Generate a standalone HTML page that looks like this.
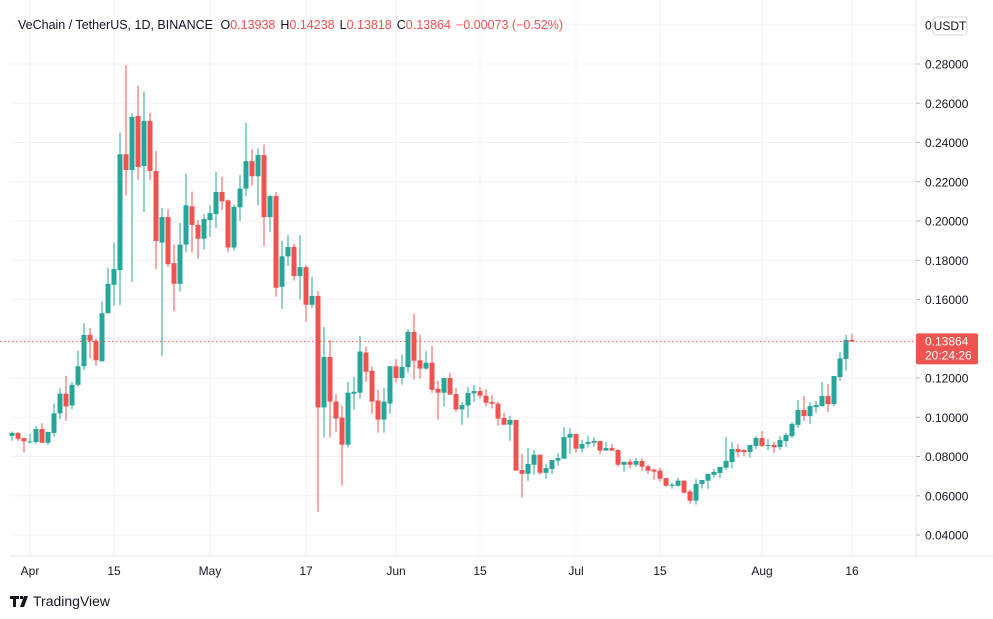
<!DOCTYPE html>
<html><head><meta charset="utf-8"><style>
html,body{margin:0;padding:0;background:#fff;}
svg{display:block;font-family:"Liberation Sans","DejaVu Sans",sans-serif;}
</style></head><body>
<svg id="chart" width="993" height="619" viewBox="0 0 993 619">
<g id="grid"></g>
<g id="candles"></g>
<g id="axes"></g>
<text x="18" y="29" font-size="12.5" fill="#131722">VeChain / TetherUS, 1D, BINANCE <tspan dx="4">O</tspan><tspan fill="#ef5350">0.13938</tspan><tspan dx="5">H</tspan><tspan fill="#ef5350">0.14238</tspan><tspan dx="5">L</tspan><tspan fill="#ef5350">0.13818</tspan><tspan dx="5">C</tspan><tspan fill="#ef5350">0.13864</tspan><tspan dx="5" fill="#ef5350">−0.00073 (−0.52%)</tspan></text>
<g>
<path d="M10 596h9v3h-3v8h-3v-8h-3zM20 596h3v3h-3zM24 596h4l-4 11h-4z" fill="#131722"/>
<text x="33" y="606" font-size="14" fill="#131722">TradingView</text>
</g>
</svg>
<script>
const opens=[.0905,.092,.0894,.0875,.0874,.094,.087,.092,.102,.112,.106,.1165,.126,.142,.139,.1285,.153,.1675,.175,.234,.226,.2535,.228,.251,.2255,.189,.202,.1785,.168,.188,.2075,.198,.191,.2005,.2035,.2148,.2105,.1865,.207,.2165,.2305,.2228,.2336,.202,.2127,.1665,.182,.1868,.172,.1765,.1573,.1618,.105,.1307,.108,.0998,.086,.112,.1125,.133,.1237,.1085,.0988,.107,.126,.120,.1255,.1435,.129,.1248,.1278,.1145,.1125,.120,.1118,.104,.106,.1122,.1134,.111,.1078,.1069,.0996,.0962,.0986,.0731,.0712,.0758,.0809,.0717,.0736,.0779,.0789,.0896,.0915,.084,.0864,.087,.0879,.083,.0843,.0833,.0758,.0773,.0758,.0777,.075,.0733,.0728,.069,.0651,.0651,.0677,.0621,.0575,.066,.0677,.0707,.0716,.0743,.0772,.0838,.0833,.0823,.0854,.0894,.0854,.0859,.0848,.0879,.0904,.0961,.1037,.1006,.1052,.1057,.1108,.1067,.1205,.1297,.1394];
const highs=[.0928,.0925,.0895,.0915,.0955,.097,.0927,.107,.115,.121,.118,.134,.148,.1455,.140,.159,.176,.189,.245,.2795,.255,.269,.266,.255,.2357,.2066,.206,.188,.199,.224,.215,.2005,.2035,.208,.225,.2225,.211,.2085,.2235,.250,.2366,.237,.239,.2133,.2148,.190,.1928,.1883,.1928,.1776,.1715,.1643,.146,.1393,.1118,.106,.118,.1206,.1414,.136,.1258,.114,.115,.126,.1297,.132,.145,.1526,.142,.1337,.1363,.1186,.120,.1227,.115,.1078,.1154,.1164,.1154,.1144,.1113,.1078,.1023,.1008,.0986,.0813,.0843,.0833,.0809,.0762,.0782,.0818,.095,.0945,.0915,.0884,.0904,.0899,.0879,.0874,.0864,.0838,.0773,.0787,.0792,.0792,.0758,.0738,.0743,.069,.0667,.0692,.0677,.0631,.0687,.068,.0711,.0736,.0747,.090,.0874,.0864,.0838,.0859,.0904,.093,.0889,.0874,.0904,.092,.0976,.1088,.1108,.1078,.1083,.118,.1169,.121,.1333,.1419,.1424];
const lows=[.088,.088,.082,.0867,.0863,.087,.086,.090,.099,.0982,.104,.1155,.124,.130,.1263,.1285,.153,.157,.157,.213,.169,.221,.2045,.221,.1755,.131,.1765,.154,.164,.184,.184,.1808,.1855,.192,.1965,.2055,.184,.185,.200,.2127,.218,.208,.187,.1945,.1614,.1553,.177,.1696,.160,.1487,.1558,.0519,.0896,.0896,.0926,.0651,.0845,.1038,.1095,.118,.1018,.0921,.0921,.1018,.1176,.1166,.1227,.1191,.1197,.1242,.1125,.0988,.1054,.1115,.1028,.0962,.0998,.1079,.1095,.1054,.1044,.0957,.0962,.088,.0728,.059,.0675,.0707,.0707,.0687,.0711,.0753,.0789,.0814,.082,.082,.0845,.085,.081,.083,.083,.0748,.0723,.074,.0748,.0728,.0712,.0682,.0672,.0646,.0636,.0646,.061,.056,.0554,.0636,.0635,.0692,.069,.0731,.0741,.0797,.080,.0797,.0838,.0848,.0833,.0818,.0833,.0848,.0894,.0945,.0981,.0966,.1022,.1057,.1027,.1057,.1185,.1236,.1383];
const closes=[.092,.089,.0877,.0877,.094,.087,.0925,.102,.112,.1055,.1165,.126,.142,.139,.129,.153,.168,.1755,.234,.226,.253,.2275,.251,.2255,.1898,.202,.178,.168,.188,.208,.198,.191,.201,.204,.2148,.210,.1865,.2072,.2165,.2305,.2228,.2336,.202,.2127,.166,.182,.1868,.172,.1765,.1573,.1618,.105,.1307,.108,.0993,.086,.1125,.113,.1335,.1232,.108,.0988,.108,.126,.120,.1256,.1435,.1288,.1248,.1278,.114,.1125,.120,.1115,.104,.1062,.1123,.1134,.111,.1074,.1069,.0993,.0962,.0986,.0728,.0712,.0762,.0809,.0717,.0741,.0782,.0792,.0899,.0915,.084,.0864,.0874,.0879,.083,.0843,.083,.0758,.0773,.0758,.0777,.0748,.0728,.0723,.0687,.0651,.0657,.0677,.0616,.0575,.066,.068,.0711,.0721,.0747,.0778,.0838,.0823,.0823,.0859,.0894,.0854,.0859,.0848,.0884,.091,.0966,.1037,.1006,.1057,.1062,.1108,.1067,.121,.130,.1394,.1386];
const priceTicks=[0.28,0.26,0.24,0.22,0.20,0.18,0.16,0.14,0.12,0.10,0.08,0.06,0.04];
const dateLabels=["Apr","15","May","17","Jun","15","Jul","15","Aug","16"];
const dateIndex=[3,17,33,49,64,78,94,108,125,140];
const lastPrice=0.13864;

const NS="http://www.w3.org/2000/svg";
function yScale(p){return 535-(p-0.04)/0.02*39.25;}
function xScale(i){return 12+6*i;}
function mk(tag,attrs,parent){const e=document.createElementNS(NS,tag);for(const k in attrs)e.setAttribute(k,attrs[k]);parent.appendChild(e);return e;}
const grid=document.getElementById('grid'),cg=document.getElementById('candles'),ax=document.getElementById('axes');

// horizontal grid
mk('line',{x1:10,x2:916,y1:25,y2:25,stroke:'#f0f3fa'},grid);
priceTicks.forEach(p=>{
  const y=yScale(p);
  const l=mk('line',{x1:10,x2:916,y1:y,y2:y,stroke:'#f0f3fa'},grid);
  
  
  const t=mk('text',{x:925,y:y+4.5,'font-size':12,fill:'#131722'},ax);
  
  
  t.textContent=p.toFixed(5);
  mk('line',{x1:916,x2:920,y1:y,y2:y,stroke:'#b2b5be'},ax);
});
dateIndex.forEach((di,k)=>{
  const x=xScale(di);
  const l=mk('line',{x1:x,x2:x,y1:0,y2:556,stroke:'#f0f3fa'},grid);
  
  
  const t=mk('text',{x:x,y:575,'font-size':12,fill:'#131722','text-anchor':'middle'},ax);
  
  
  t.textContent=dateLabels[k];
});
// axis borders
mk('line',{x1:916,x2:916,y1:0,y2:556,stroke:'#e0e3eb'},ax);
mk('line',{x1:10,x2:993,y1:556,y2:556,stroke:'#e0e3eb'},ax);
const ut=mk('text',{x:925,y:29.5,'font-size':12,fill:'#131722'},ax);


ut.textContent='0';
const ub=mk('rect',{x:933,y:17,width:34,height:18,rx:4,fill:'#fff',stroke:'#d1d4dc'},ax);


const ut2=mk('text',{x:950,y:30,'font-size':12,fill:'#131722','text-anchor':'middle'},ax);
ut2.textContent='USDT';

// candles
for(let i=0;i<opens.length;i++){
  const o=opens[i],h=highs[i],l=lows[i],c=closes[i];
  const col=c>=o?'#26a69a':'#ef5350';
  const x=xScale(i);
  const g=mk('g',{},cg);
  
  
  mk('line',{x1:x,x2:x,y1:yScale(h),y2:yScale(l),stroke:col,'stroke-width':1},g);
  const top=yScale(Math.max(o,c)),bot=yScale(Math.min(o,c));
  mk('rect',{x:x-2.5,y:top,width:5,height:Math.max(1,bot-top),fill:col},g);
}
// last price line
const ly=yScale(lastPrice);
const pl=mk('line',{x1:0,x2:916,y1:ly,y2:ly,stroke:'#ef5350','stroke-dasharray':'1.5 2.5','stroke-width':1},ax);


const pb=mk('rect',{x:916,y:ly-8,width:62,height:31,rx:2,fill:'#ef5350'},ax);


const pt=mk('text',{x:925,y:ly+4,'font-size':12,fill:'#fff'},ax);
pt.textContent=lastPrice.toFixed(5);
const ct=mk('text',{x:925,y:ly+18,'font-size':12,fill:'#fff'},ax);


ct.textContent='20:24:26';
</script>
</body></html>
